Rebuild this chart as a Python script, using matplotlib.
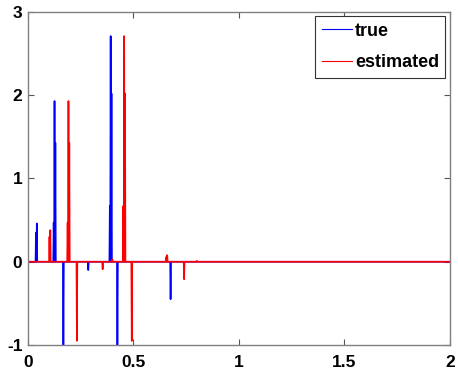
import numpy as np
import matplotlib
matplotlib.use("Agg")
import matplotlib.pyplot as plt

plt.rcParams['font.family'] = ['Liberation Sans', 'DejaVu Sans']
plt.rcParams['axes.unicode_minus'] = False

# spike times (s) and amplitudes
true_times = [0.038, 0.042, 0.122, 0.126, 0.130, 0.168, 0.286, 0.389, 0.393, 0.397, 0.425, 0.675]
true_amps = [0.35, 0.46, 0.47, 1.93, 1.43, -1.05, -0.10, 0.67, 2.71, 2.02, -1.05, -0.45]

est_times = [0.102, 0.106, 0.188, 0.192, 0.196, 0.231, 0.354, 0.400, 0.452, 0.456, 0.460, 0.493, 0.655, 0.660, 0.741, 0.800]
est_amps = [0.30, 0.38, 0.47, 1.93, 1.43, -0.95, -0.09, 0.03, 0.67, 2.71, 2.02, -0.95, 0.06, 0.08, -0.21, 0.01]

t_end = 2.0
dt = 0.002


def spike_train(times, amps):
    t = np.arange(0, t_end + dt / 2, dt)
    y = np.zeros_like(t)
    for ti, a in zip(times, amps):
        y[int(round(ti / dt))] = a
    return t, y


t1, y1 = spike_train(true_times, true_amps)
t2, y2 = spike_train(est_times, est_amps)

fig = plt.figure(figsize=(4.58, 3.73), dpi=100)
ax = fig.add_axes([0.061, 0.075, 0.9215, 0.893])
ax.plot(t1, y1, color="blue", lw=1.2, label="true")
ax.plot(t2, y2, color="red", lw=1.2, label="estimated")

ax.set_xlim(0, 2)
ax.set_ylim(-1, 3)
ax.set_xticks([0, 0.5, 1, 1.5, 2])
ax.set_xticklabels(["0", "0.5", "1", "1.5", "2"])
ax.set_yticks([-1, 0, 1, 2, 3])
ax.tick_params(direction="in", top=True, right=True, length=4, width=0.8,
               color="#555555", labelsize=12.5)
ax.tick_params(axis="x", pad=7)
ax.tick_params(axis="y", pad=4)
for lab in ax.get_xticklabels() + ax.get_yticklabels():
    lab.set_fontweight("bold")
for sp in ax.spines.values():
    sp.set_color("#808080")
    sp.set_linewidth(1.0)

leg = ax.legend(loc="upper right", prop={"weight": "bold", "size": 13},
                fancybox=False, framealpha=1, edgecolor="#333333",
                handlelength=1.7, handletextpad=0.15, borderaxespad=0.25,
                labelspacing=0.8, borderpad=0.35)
leg.get_frame().set_linewidth(0.8)
for line in leg.get_lines():
    line.set_linewidth(0.8)

fig.savefig("out.png", dpi=100)
